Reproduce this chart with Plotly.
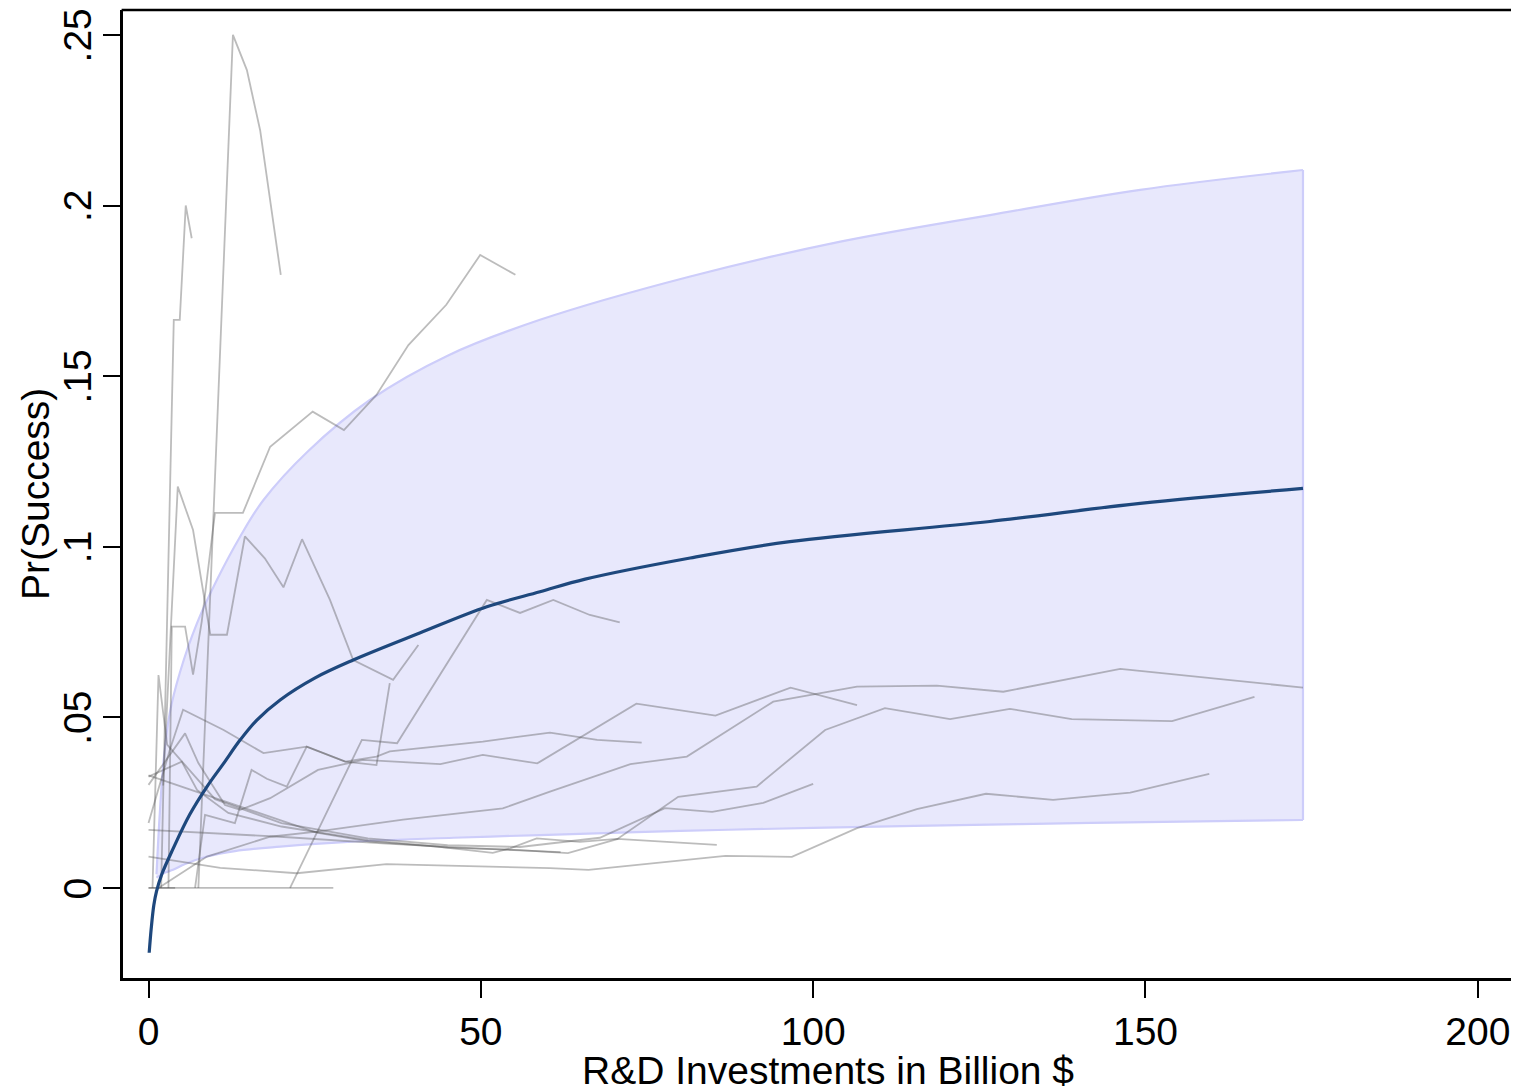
import plotly.graph_objects as go

# ---------------- data ----------------
# fitted curve (Pr(Success) vs R&D investment)
fit_x = [0.1, 0.4, 0.8, 1.2, 2.0, 3.7, 6.2, 8.8, 11.3, 13.8, 16.3, 19.8, 25, 30.8,
         40.8, 50.9, 58.9, 65.7, 81.5, 96.5, 126.6, 149.2, 173.7]
fit_y = [-0.019, -0.012, -0.005, -0.001, 0.004, 0.0115, 0.0215, 0.0297, 0.0365, 0.0434,
         0.0492, 0.0551, 0.0615, 0.0668, 0.0747, 0.0824, 0.0868, 0.0905, 0.0967, 0.1015,
         0.1074, 0.1127, 0.1171]

# confidence band
ci_up_x = [1.2, 1.7, 2.3, 3.2, 4.7, 7.3, 10.3, 13.8, 17.3, 24, 33.3, 45, 58.9, 81.5,
           104.1, 126.6, 149.2, 173.7]
ci_up_y = [0.004, 0.022, 0.038, 0.0513, 0.063, 0.0776, 0.0903, 0.103, 0.1137, 0.128,
           0.143, 0.156, 0.1665, 0.1792, 0.1894, 0.1972, 0.2046, 0.2104]
ci_lo_x = [1.2, 2.5, 3.7, 5.5, 8.8, 13, 19.8, 30, 45.9, 58.9, 80, 100, 131, 150, 173.7]
ci_lo_y = [0.003, 0.0045, 0.0053, 0.007, 0.0092, 0.0108, 0.0121, 0.0135, 0.0147,
           0.0155, 0.0167, 0.0176, 0.0187, 0.0193, 0.0199]

# individual observed series (gray)
a_x = [1.9, 3.8, 4.7, 5.6, 6.5]
a_y = [0.0, 0.1665, 0.1665, 0.2, 0.1904]
b_x = [7.5, 12.7, 14.8, 16.8, 19.9]
b_y = [0.0, 0.25, 0.2397, 0.222, 0.1797]
c_x = [3.0, 3.5, 5.5, 6.7, 8.0, 10.0, 14.2, 18.3, 24.7, 29.4, 34.3, 39.1, 44.8, 49.9, 55.2]
c_y = [0.0, 0.0766, 0.0766, 0.0625, 0.078, 0.1099, 0.1099, 0.1293, 0.1396, 0.1342,
       0.1445, 0.1591, 0.1709, 0.1855, 0.1797]
d_x = [2.2, 4.4, 6.7, 9.3, 11.8, 14.5, 17.5, 20.3, 23.1, 27.3, 30.8, 36.8, 40.6]
d_y = [0.03, 0.1176, 0.1049, 0.0742, 0.0742, 0.103, 0.0966, 0.0881, 0.1022, 0.0844,
       0.0668, 0.061, 0.0712]
g_x = [0.0, 3.2, 5.2, 11.3, 17.3, 23.8, 29.6, 34.3, 36.3, 42.8, 50.3, 60.4, 67.5, 74.2]
g_y = [0.019, 0.0404, 0.0522, 0.0463, 0.0395, 0.0414, 0.037, 0.0385, 0.04, 0.0413,
       0.0429, 0.0455, 0.0434, 0.0426]
i_x = [0.0, 5.5, 7.5, 11.5, 13.8, 18.3, 25.5, 32.3, 43.9, 50.3, 58.5, 73.4, 85.3, 96.6, 106.6]
i_y = [0.0302, 0.0453, 0.0366, 0.0243, 0.0229, 0.0263, 0.0346, 0.0375, 0.0363, 0.039,
       0.0365, 0.054, 0.0505, 0.0587, 0.0536]
j_x = [1.5, 8.8, 18.3, 25.3, 38.3, 53.3, 60.4, 72.5, 81, 94, 106.6, 118.6, 128.6, 146.2, 173.7]
j_y = [0.0, 0.0092, 0.015, 0.0165, 0.02, 0.0233, 0.0282, 0.0363, 0.0385, 0.0546, 0.059,
       0.0593, 0.0575, 0.0642, 0.0587]
k_x = [0.0, 5.0, 7.3, 12, 20, 33, 45, 55.9, 63.1, 70.5, 79.7, 91.5, 101.8, 110.8, 120.6,
       129.6, 138.9, 154, 166.4]
k_y = [0.0326, 0.037, 0.0287, 0.022, 0.018, 0.014, 0.0118, 0.0111, 0.0102, 0.0143,
       0.0267, 0.0297, 0.0463, 0.0527, 0.0495, 0.0525, 0.0495, 0.0489, 0.056]
l_x = [0.6, 1.5, 2.8, 10, 20, 33, 45, 55.9, 67.9, 77.7, 84.8, 92.5, 100]
l_y = [0.0, 0.0624, 0.042, 0.026, 0.019, 0.0145, 0.0125, 0.012, 0.0147, 0.0234, 0.0223,
       0.0249, 0.0305]
m_x = [0.0, 6.7, 10.8, 22.3, 35.8, 60.4, 66.2, 86.8, 96.8, 106.6, 115.6, 126, 136.1,
       147.7, 159.6]
m_y = [0.0092, 0.0072, 0.0059, 0.0043, 0.007, 0.0058, 0.0053, 0.0094, 0.0091, 0.0175,
       0.0231, 0.0276, 0.0258, 0.0279, 0.0334]
n_x = [0.0, 19.8, 25.3, 33.3, 43.4, 51.8, 54.4, 58.4, 64.9, 70.5, 85.5]
n_y = [0.033, 0.0199, 0.0162, 0.0136, 0.0121, 0.0103, 0.0116, 0.0145, 0.0135, 0.0144,
       0.0126]
p_x = [0.0, 19.8, 35.8, 50, 62]
p_y = [0.017, 0.015, 0.013, 0.0115, 0.0105]
q_x = [0.0, 27.8]
q_y = [0.0, 0.0]
q2_x = [0.0, 4.0]
q2_y = [0.0, 0.0]
r_x = [7.0, 8.5, 13, 15.5, 17.8, 20.8, 23.8, 29.6, 34.3, 36.3]
r_y = [0.0, 0.0214, 0.019, 0.0346, 0.032, 0.0297, 0.0414, 0.037, 0.036, 0.06]
s_x = [21.3, 32.1, 37.4, 50.9, 55.9, 60.9, 66.4, 70.9]
s_y = [0.0, 0.0434, 0.0424, 0.0844, 0.0806, 0.0844, 0.08, 0.0778]

gray_series = [(a_x, a_y), (b_x, b_y), (c_x, c_y), (d_x, d_y), (g_x, g_y), (i_x, i_y),
               (j_x, j_y), (k_x, k_y), (l_x, l_y), (m_x, m_y), (n_x, n_y), (p_x, p_y),
               (q_x, q_y), (q2_x, q2_y), (r_x, r_y), (s_x, s_y)]

x_ticks = [0, 50, 100, 150, 200]
x_ticktext = ["0", "50", "100", "150", "200"]
y_ticks = [0, 0.05, 0.1, 0.15, 0.2, 0.25]
y_ticktext = ["0", ".05", ".1", ".15", ".2", ".25"]

x_title = "R&D Investments in Billion $"
y_title = "Pr(Success)"

# ---------------- figure ----------------
FONT = "Arial, Liberation Sans, Helvetica, sans-serif"
BAND_EDGE = "rgb(205,205,250)"
BAND_FILL = "rgb(232,232,252)"
fig = go.Figure()

# confidence band: lower edge, then upper edge filled down to it
fig.add_trace(go.Scatter(x=ci_lo_x, y=ci_lo_y, mode="lines", line_shape="spline",
                         line=dict(color=BAND_EDGE, width=2.2),
                         hoverinfo="skip", showlegend=False))
fig.add_trace(go.Scatter(x=ci_up_x, y=ci_up_y, mode="lines", line_shape="spline",
                         fill="tonexty", fillcolor=BAND_FILL,
                         line=dict(color=BAND_EDGE, width=2.2),
                         hoverinfo="skip", showlegend=False))
# closing right edge of the band
fig.add_trace(go.Scatter(x=[ci_up_x[-1], ci_lo_x[-1]], y=[ci_up_y[-1], ci_lo_y[-1]],
                         mode="lines", line=dict(color=BAND_EDGE, width=2.2),
                         hoverinfo="skip", showlegend=False))

for gx, gy in gray_series:
    fig.add_trace(go.Scatter(x=gx, y=gy, mode="lines",
                             line=dict(color="rgba(80,80,80,0.38)", width=1.8),
                             hoverinfo="skip", showlegend=False))

fig.add_trace(go.Scatter(x=fit_x, y=fit_y, mode="lines", line_shape="spline",
                         line=dict(color="rgb(30,72,125)", width=3.2),
                         hoverinfo="skip", showlegend=False))

axis_common = dict(showgrid=False, zeroline=False, showline=True, linecolor="black",
                   linewidth=2.5, ticks="outside", ticklen=17, tickwidth=1.5,
                   tickcolor="black", tickfont=dict(family=FONT, size=39, color="black"),
                   ticklabeloverflow="allow", automargin=False, mirror=False)

# rotated y tick labels placed precisely (centred on each tick)
y_label_annotations = [
    dict(text=t, xref="paper", yref="y", x=-0.0326, y=v, xanchor="center",
         yanchor="middle", textangle=-90, showarrow=False,
         font=dict(family=FONT, size=39, color="black"))
    for v, t in zip(y_ticks, y_ticktext)
]

# the page body has an 8px margin, so the figure is sized to end at the window edge
fig.update_layout(
    width=1511, height=1080,
    margin=dict(l=115, r=0, t=2, b=110, autoexpand=False),
    paper_bgcolor="white", plot_bgcolor="white",
    font=dict(family=FONT, color="black"),
    xaxis=dict(range=[-3.84, 206.2], tickvals=x_ticks, ticktext=x_ticktext, **axis_common),
    yaxis=dict(range=[-0.0264, 0.2573], tickvals=y_ticks, showticklabels=False,
               **axis_common),
    shapes=[dict(type="line", xref="paper", yref="paper", x0=-0.001, x1=1, y0=1, y1=1,
                 line=dict(color="black", width=2.5))],
    annotations=y_label_annotations + [
        dict(text=x_title, xref="paper", yref="paper", x=0.505, y=0, yanchor="middle",
             xanchor="center", yshift=-92, showarrow=False,
             font=dict(family=FONT, size=39, color="black")),
        dict(text=y_title, xref="paper", yref="paper", x=-0.063, y=0.5, xanchor="center",
             yanchor="middle", textangle=-90, showarrow=False,
             font=dict(family=FONT, size=39, color="black")),
    ],
)

fig.write_html("out.html")
